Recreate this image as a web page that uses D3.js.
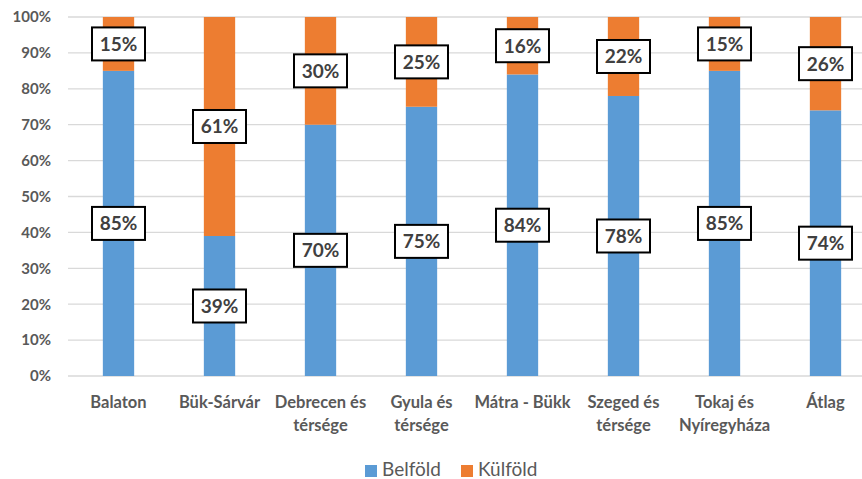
<!DOCTYPE html>
<html><head><meta charset="utf-8">
<script src="https://cdn.jsdelivr.net/npm/d3@7"></script>
<style>body{margin:0;background:#fff}svg{display:block}</style>
</head><body>
<svg id="c" width="862" height="479"></svg>
<script>
const categories = [["Balaton"],["Bük-Sárvár"],["Debrecen és","térsége"],["Gyula és","térsége"],["Mátra - Bükk"],["Szeged és","térsége"],["Tokaj és","Nyíregyháza"],["Átlag"]];
const belfold = [85, 39, 70, 75, 84, 78, 85, 74];
const kulfold = [15, 61, 30, 25, 16, 22, 15, 26];
const seriesNames = ["Belföld", "Külföld"];
const colors = ["#5B9BD5", "#ED7D31"];
const yTicks = [0,10,20,30,40,50,60,70,80,90,100];

const font = "Lato, 'Open Sans', sans-serif";
const svg = d3.select("#c");
const x = d3.scaleBand().domain(d3.range(categories.length)).range([68, 876]).paddingInner(0.69).paddingOuter(0.345);
const y = d3.scaleLinear().domain([0, 100]).range([376, 17]);

// gridlines
svg.append("g").selectAll("line").data(yTicks).join("line")
  .attr("x1", 68).attr("x2", 862)
  .attr("y1", d => y(d)).attr("y2", d => y(d))
  .attr("stroke", "#d9d9d9").attr("stroke-width", 1.3);

// y axis labels
const yAxis = d3.axisLeft(y).tickValues(yTicks).tickFormat(d => d + "%").tickSize(0).tickPadding(0);
const ya = svg.append("g").attr("transform", "translate(51,0)").call(yAxis);
ya.select(".domain").remove();
ya.selectAll("text").attr("font-family", font).attr("font-weight", "bold").attr("font-size", 15).attr("fill", "#595959");

// stacked data
const rows = categories.map((c, i) => ({i, b: belfold[i], k: kulfold[i]}));
const stack = d3.stack().keys(["b", "k"])(rows);
const gs = svg.append("g").selectAll("g").data(stack).join("g").attr("fill", (d, i) => colors[i]);
gs.selectAll("rect").data(d => d).join("rect")
  .attr("x", d => x(d.data.i)).attr("width", x.bandwidth())
  .attr("y", d => y(d[1])).attr("height", d => y(d[0]) - y(d[1]));

// labels
const lab = svg.append("g");
stack.forEach(s => {
  s.forEach(d => {
    const cx = x(d.data.i) + x.bandwidth() / 2;
    const cy = y((d[0] + d[1]) / 2);
    const val = d[1] - d[0];
    const g = lab.append("g");
    const w = 53, h = 33;
    g.append("rect").attr("x", cx - w/2).attr("y", cy - h/2).attr("width", w).attr("height", h)
      .attr("fill", "#fff").attr("stroke", "#000").attr("stroke-width", 2);
    g.append("text").attr("x", cx).attr("y", cy).attr("dy", "0.36em").attr("text-anchor", "middle")
      .attr("font-family", font).attr("font-weight", "bold").attr("font-size", 19).attr("fill", "#404040")
      .text(val + "%");
  });
});

// x axis labels
const xa = svg.append("g");
categories.forEach((c, i) => {
  const t = xa.append("text").attr("x", x(i) + x.bandwidth() / 2).attr("y", 408)
    .attr("text-anchor", "middle").attr("font-family", font).attr("font-weight", "bold")
    .attr("font-size", 16.5).attr("fill", "#595959");
  c.forEach((line, j) => t.append("tspan").attr("x", x(i) + x.bandwidth() / 2).attr("dy", j ? 22.5 : 0).text(line));
});

// legend
const legX = [365, 461];
seriesNames.forEach((n, i) => {
  svg.append("rect").attr("x", legX[i]).attr("y", 465).attr("width", 12).attr("height", 12).attr("fill", colors[i]);
  svg.append("text").attr("x", legX[i] + 17).attr("y", 476).attr("font-family", font)
    .attr("font-size", 19).attr("fill", "#595959").text(n);
});
</script>
</body></html>
